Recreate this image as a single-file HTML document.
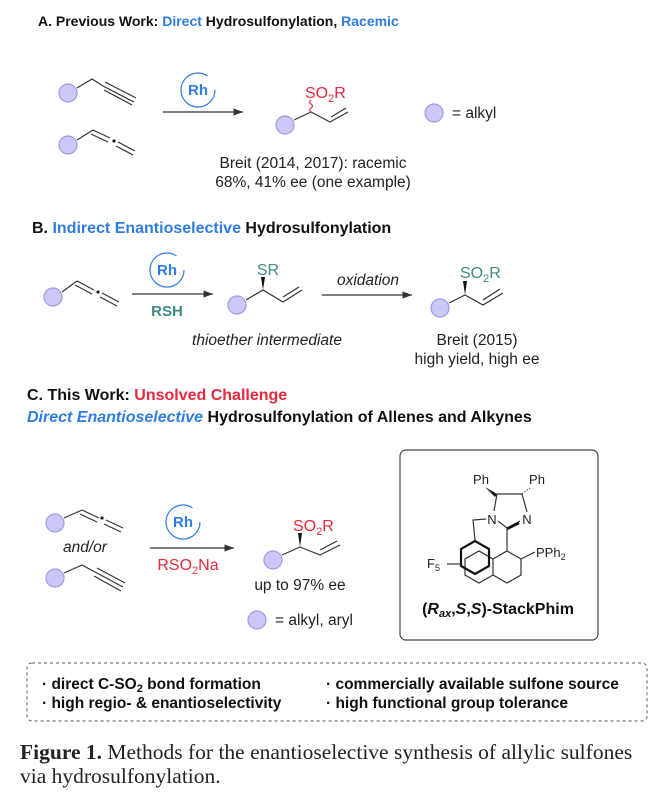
<!DOCTYPE html>
<html><head><meta charset="utf-8"><style>
html,body{margin:0;padding:0;background:#fff;}
svg{display:block}
text{font-family:"Liberation Sans",sans-serif;}
text.serif{font-family:"Liberation Serif",serif;}
.t{font-size:16px;font-weight:bold;}
.b{font-size:15.5px;fill:#222;}
.c{fill:#c9c8f7;stroke:#9d9be3;stroke-width:1.2}
.l{stroke:#333;stroke-width:1.2;fill:none}
</style></head><body>
<svg width="666" height="811" viewBox="0 0 666 811" xmlns="http://www.w3.org/2000/svg">
<defs><marker id="ar" markerWidth="8" markerHeight="6" refX="8" refY="3" orient="auto"><path d="M0,0L8,3L0,6z" fill="#333"/></marker></defs>

<!-- A -->
<text x="38" y="26" class="t" style="font-size:14px"><tspan fill="#111">A. Previous Work: </tspan><tspan fill="#2f7de1">Direct</tspan><tspan fill="#111"> Hydrosulfonylation, </tspan><tspan fill="#2f7de1">Racemic</tspan></text>
<circle cx="68" cy="93" r="9" class="c"/>
<path class="l" d="M77,88 L92,79 L103,86 L134,102"/>
<path class="l" d="M105,82 L136,98 M104,90 L132,105"/>
<circle cx="68" cy="145" r="9" class="c"/>
<path class="l" d="M77,140 L93,130"/>
<path class="l" d="M93,130 L110,138 M91,134 L108,142"/>
<circle cx="114" cy="141" r="1.6" fill="#222"/>
<path class="l" d="M118,142 L135,151 M116,146 L133,155"/>
<circle cx="198" cy="90" r="17" fill="none" stroke="#2f7de1" stroke-width="1.2" stroke-dasharray="90 17"/>
<text x="198" y="95" text-anchor="middle" font-size="15" font-weight="bold" fill="#2f7de1">Rh</text>
<line x1="163" y1="112" x2="243" y2="112" class="l" marker-end="url(#ar)"/>
<circle cx="285" cy="125" r="9" class="c"/>
<path class="l" d="M294,120 L311,112 L330,122 L348,112 M331,117 L346,108"/>
<path d="M311,112 q-3,-2 0,-4 q3,-2 0,-4 q-3,-2 0,-4" stroke="#e8283c" stroke-width="1.2" fill="none"/>
<text x="305" y="98" font-size="16" fill="#e8283c">SO<tspan font-size="11" dy="4">2</tspan><tspan dy="-4">R</tspan></text>
<circle cx="434" cy="113" r="9" class="c"/>
<text x="452" y="118" class="b">= alkyl</text>
<text x="313" y="168" text-anchor="middle" class="b">Breit (2014, 2017): racemic</text>
<text x="313" y="187" text-anchor="middle" class="b">68%, 41% ee (one example)</text>

<!-- B -->
<text x="32" y="233" class="t"><tspan fill="#111">B. </tspan><tspan fill="#2f7de1">Indirect Enantioselective</tspan><tspan fill="#111"> Hydrosulfonylation</tspan></text>
<circle cx="53" cy="297" r="9" class="c"/>
<path class="l" d="M62,292 L77,281"/>
<path class="l" d="M77,281 L94,290 M75,285 L92,294"/>
<circle cx="98" cy="292" r="1.6" fill="#222"/>
<path class="l" d="M102,293 L119,302 M100,297 L117,306"/>
<circle cx="167" cy="270" r="17" fill="none" stroke="#2f7de1" stroke-width="1.2" stroke-dasharray="90 17"/>
<text x="167" y="275" text-anchor="middle" font-size="15" font-weight="bold" fill="#2f7de1">Rh</text>
<line x1="132" y1="294" x2="213" y2="294" class="l" marker-end="url(#ar)"/>
<text x="167" y="316" text-anchor="middle" font-size="15" font-weight="bold" fill="#3d8a86">RSH</text>
<circle cx="237" cy="305" r="9" class="c"/>
<path class="l" d="M246,300 L263,290 L283,302 L302,290 M283,297 L299,287"/>
<path d="M263,290 L261,277 L265,277z" fill="#111"/>
<text x="268" y="275" text-anchor="middle" font-size="16" fill="#3d8a86">SR</text>
<text x="267" y="345" text-anchor="middle" class="b" font-style="italic">thioether intermediate</text>
<line x1="322" y1="295" x2="412" y2="295" class="l" marker-end="url(#ar)"/>
<text x="368" y="285" text-anchor="middle" class="b" font-style="italic">oxidation</text>
<circle cx="440" cy="308" r="9" class="c"/>
<path class="l" d="M449,303 L465,295 L483,305 L503,293 M483,300 L500,289"/>
<path d="M465,295 L463,281 L467,281z" fill="#111"/>
<text x="460" y="278" font-size="16" fill="#3d8a86">SO<tspan font-size="11" dy="4">2</tspan><tspan dy="-4">R</tspan></text>
<text x="477" y="345" text-anchor="middle" class="b">Breit (2015)</text>
<text x="477" y="364" text-anchor="middle" class="b">high yield, high ee</text>

<!-- C -->
<text x="27" y="400" class="t"><tspan fill="#111">C. This Work: </tspan><tspan fill="#e8283c">Unsolved Challenge</tspan></text>
<text x="27" y="422" class="t"><tspan fill="#2f7de1" font-style="italic">Direct Enantioselective</tspan><tspan fill="#111"> Hydrosulfonylation of Allenes and Alkynes</tspan></text>
<circle cx="55" cy="523" r="9" class="c"/>
<path class="l" d="M64,518 L82,510"/>
<path class="l" d="M82,510 L99,518 M80,514 L97,522"/>
<circle cx="102" cy="518" r="1.6" fill="#222"/>
<path class="l" d="M106,520 L123,528 M104,524 L121,532"/>
<text x="85" y="552" text-anchor="middle" class="b" font-style="italic">and/or</text>
<circle cx="55" cy="578" r="9" class="c"/>
<path class="l" d="M64,573 L82,565 L95,572 L123,587 M97,568 L125,583 M94,576 L121,591"/>
<circle cx="183" cy="522" r="17" fill="none" stroke="#2f7de1" stroke-width="1.2" stroke-dasharray="90 17"/>
<text x="183" y="527" text-anchor="middle" font-size="15" font-weight="bold" fill="#2f7de1">Rh</text>
<line x1="150" y1="548" x2="234" y2="548" class="l" marker-end="url(#ar)"/>
<text x="188" y="570" text-anchor="middle" font-size="16" fill="#e8283c">RSO<tspan font-size="11" dy="4">2</tspan><tspan dy="-4">Na</tspan></text>
<circle cx="273" cy="560" r="9" class="c"/>
<path class="l" d="M282,555 L300,547 L320,555 L340,545 M320,550 L337,541"/>
<path d="M300,547 L298,533 L302,533z" fill="#111"/>
<text x="293" y="531" font-size="16" fill="#e8283c">SO<tspan font-size="11" dy="4">2</tspan><tspan dy="-4">R</tspan></text>
<text x="300" y="590" text-anchor="middle" class="b">up to 97% ee</text>
<circle cx="257" cy="620" r="9" class="c"/>
<text x="275" y="625" class="b">= alkyl, aryl</text>

<!-- catalyst box -->
<rect x="400" y="450" width="198" height="190" rx="6" fill="none" stroke="#444" stroke-width="1.2"/>
<text x="481" y="484" text-anchor="middle" font-size="13" fill="#222">Ph</text>
<text x="537" y="484" text-anchor="middle" font-size="13" fill="#222">Ph</text>
<path d="M485,487 L497,494 L495,497z" fill="#111"/>
<path class="l" d="M497,494 L522,494 L527,512 M497,494 L494,511"/>
<path d="M522,494 L530,488" stroke="#333" stroke-width="1" stroke-dasharray="1.5 1.5"/>
<text x="492" y="524" text-anchor="middle" font-size="13" fill="#222">N</text>
<text x="527" y="524" text-anchor="middle" font-size="13" fill="#222">N</text>
<path class="l" d="M498,521 L507,528 M507,528 L520,521"/>
<path d="M507,529 L519,523" stroke="#111" stroke-width="2.5"/>
<path class="l" d="M486,519 L473,520 L475,540"/>
<path class="l" d="M507,528 L507,551"/>
<path class="l" d="M507,551 L521,559 L521,575 L507,583 L493,575 L493,559 Z"/>
<path class="l" d="M493,559 L479,551 L465,559 L465,575 L479,583 L493,575"/>
<path class="l" d="M521,559 L535,552"/>
<text x="536" y="557" font-size="13" fill="#222">PPh<tspan font-size="9" dy="3">2</tspan></text>
<path d="M475,541 L461,549 L461,566 L475,574 L489,566 L489,549 Z" fill="none" stroke="#111" stroke-width="2.2"/>
<path class="l" d="M447,564 L461,564"/>
<text x="427" y="568" font-size="13" fill="#222">F<tspan font-size="9" dy="3">5</tspan></text>
<text x="498" y="614" text-anchor="middle" font-size="16" font-weight="bold" fill="#111">(<tspan font-style="italic">R</tspan><tspan font-style="italic" font-size="11" dy="3">ax</tspan><tspan dy="-3">,</tspan><tspan font-style="italic">S</tspan>,<tspan font-style="italic">S</tspan>)-StackPhim</text>

<!-- bottom box -->
<rect x="27" y="663" width="620" height="58" rx="5" fill="none" stroke="#777" stroke-width="1.2" stroke-dasharray="3 3"/>
<g font-size="15.5" font-weight="bold" fill="#111">
<text x="42" y="689">· direct C-SO<tspan font-size="11" dy="3">2</tspan><tspan dy="-3"> bond formation</tspan></text>
<text x="42" y="708">· high regio- &amp; enantioselectivity</text>
<text x="326" y="689">· commercially available sulfone source</text>
<text x="326" y="708">· high functional group tolerance</text>
</g>
<text x="20" y="759" class="serif" font-size="21.5" fill="#222"><tspan font-weight="bold">Figure 1.</tspan> Methods for the enantioselective synthesis of allylic sulfones</text>
<text x="20" y="783" class="serif" font-size="21.5" fill="#222">via hydrosulfonylation.</text>
</svg>
</body></html>
